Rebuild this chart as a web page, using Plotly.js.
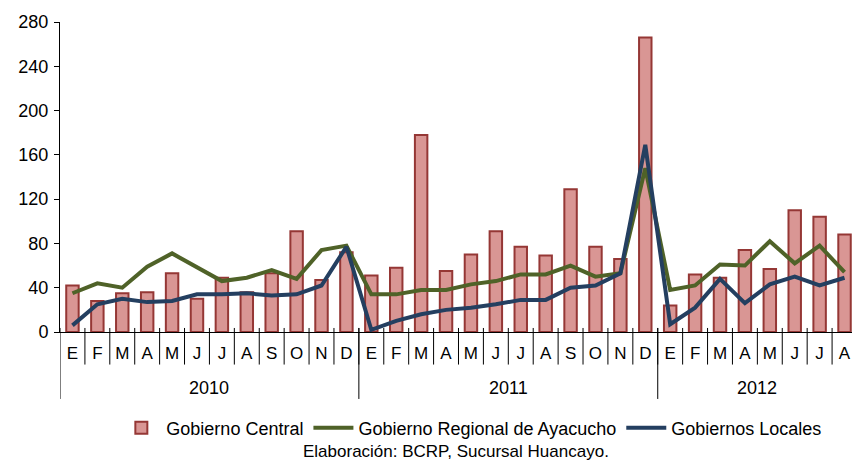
<!DOCTYPE html>
<html>
<head>
<meta charset="utf-8">
<script src="https://cdn.plot.ly/plotly-3.0.1.min.js"></script>
<style>html,body{margin:0;padding:0;background:#fff;}#chart{width:852px;height:462px;}</style>
</head>
<body>
<div id="chart"></div>
<script>
const months = ["E","F","M","A","M","J","J","A","S","O","N","D",
                "E","F","M","A","M","J","J","A","S","O","N","D",
                "E","F","M","A","M","J","J","A"];
const years = ["2010","2011","2012"];
const yearLengths = [12, 12, 8];
const gobiernoCentral = [42, 28, 35, 36, 53, 30, 49, 36, 53, 91, 47, 72,
                         51, 58, 178, 55, 70, 91, 77, 69, 129, 77, 66, 266,
                         24, 52, 49, 74, 57, 110, 104, 88];
const gobiernoRegional = [35, 44, 40, 59, 71, 58, 46, 49, 56, 48, 74, 78,
                          34, 34, 38, 38, 43, 46, 52, 52, 60, 50, 53, 148,
                          38, 42, 61, 60, 82, 62, 78, 54];
const gobiernosLocales = [6, 25, 30, 27, 28, 34, 34, 35, 33, 34, 42, 77,
                          2, 10, 16, 20, 22, 25, 29, 29, 40, 42, 53, 169,
                          7, 22, 48, 26, 43, 50, 42, 49];

const idx = months.map((_, i) => i);
const font = "Liberation Sans, Arial, sans-serif";

const traces = [
  {type: "bar", name: "Gobierno Central", x: idx, y: gobiernoCentral, width: 0.5,
   marker: {color: "#d99694", line: {color: "#953735", width: 2}}},
  {type: "scatter", mode: "lines", name: "Gobierno Regional de Ayacucho", x: idx, y: gobiernoRegional,
   line: {color: "#4f6228", width: 4}},
  {type: "scatter", mode: "lines", name: "Gobiernos Locales", x: idx, y: gobiernosLocales,
   line: {color: "#243f60", width: 4}}
];

const shapes = [];
const annotations = [];
// month separators
for (let i = 1; i < months.length; i++) {
  shapes.push({type: "line", xref: "x", yref: "paper", x0: i - 0.5, x1: i - 0.5, y0: 0.013, y1: -0.105,
               line: {color: "#000", width: 1}});
}
// year separators and labels
let start = 0;
for (let k = 0; k < years.length; k++) {
  shapes.push({type: "line", xref: "x", yref: "paper", x0: start - 0.5, x1: start - 0.5, y0: 0.013, y1: -0.216,
               line: {color: "#000", width: 1}});
  annotations.push({xref: "x", yref: "paper", x: start + (yearLengths[k] - 1) / 2, y: -0.182,
                    text: years[k], showarrow: false, yanchor: "middle",
                    font: {family: font, size: 18, color: "#000"}});
  start += yearLengths[k];
}
annotations.push({xref: "paper", yref: "paper", x: 0.5, y: -0.385, yanchor: "middle", xanchor: "center",
                  text: "Elaboración: BCRP, Sucursal Huancayo.", showarrow: false,
                  font: {family: font, size: 17, color: "#000"}});

const layout = {
  width: 852, height: 462,
  margin: {l: 60, r: 0, t: 22, b: 130},
  paper_bgcolor: "#fff", plot_bgcolor: "#fff",
  showlegend: true,
  font: {family: font, size: 17, color: "#000"},
  bargap: 0.5,
  xaxis: {range: [-0.5, 31.3], tickvals: idx, ticktext: months, ticks: "", showgrid: false,
          zeroline: false, showline: true, linecolor: "#000", linewidth: 1,
          ticklabelstandoff: 6, tickfont: {family: font, size: 17, color: "#000"}},
  yaxis: {range: [0, 280], dtick: 40, tick0: 0, ticks: "outside", ticklen: 5, tickcolor: "#000",
          showgrid: false, zeroline: false, showline: true, linecolor: "#000", linewidth: 1,
          ticklabelstandoff: 2, tickfont: {family: font, size: 18, color: "#000"}},
  legend: {orientation: "h", x: 0.52, xanchor: "center", y: -0.31, yanchor: "middle",
           font: {family: font, size: 18, color: "#000"}, itemwidth: 40, tracegroupgap: 0},
  shapes: shapes,
  annotations: annotations
};

Plotly.newPlot("chart", traces, layout, {displayModeBar: false, staticPlot: true});
</script>
</body>
</html>
